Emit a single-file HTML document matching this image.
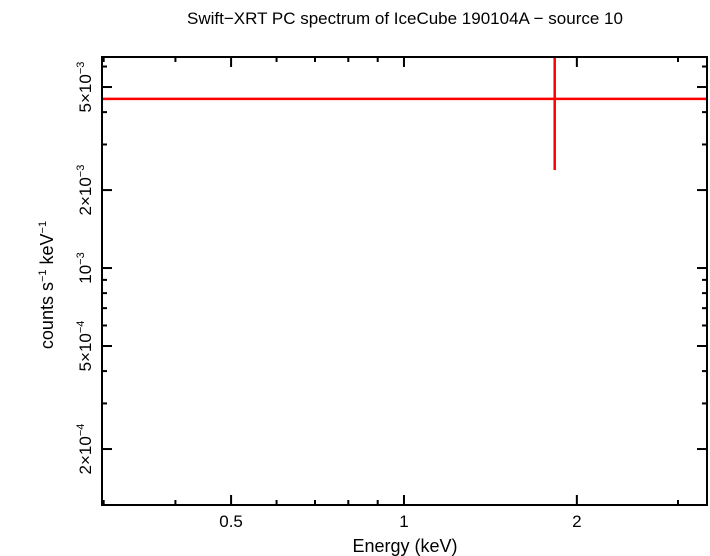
<!DOCTYPE html>
<html><head><meta charset="utf-8"><style>
body{margin:0;background:#fff;}
svg{display:block;font-family:"Liberation Sans",sans-serif;}
</style></head><body>
<svg id="c" width="710" height="556">
<text x="405" y="24" font-size="17" text-anchor="middle">Swift−XRT PC spectrum of IceCube 190104A − source 10</text>
<text x="405" y="552" font-size="18" text-anchor="middle">Energy (keV)</text>
<text transform="translate(53,285) rotate(-90)" font-size="18" text-anchor="middle">counts s<tspan font-size="11" dy="-7">−1</tspan><tspan dy="7"> keV</tspan><tspan font-size="11" dy="-7">−1</tspan></text>
<g id="ticks"></g>
<g id="data"></g>
<rect x="102" y="57" width="605" height="448" fill="none" stroke="#000" stroke-width="2"/>
</svg>
<script>
const xTicksMajor=[0.5,1,2];
const xTickLabels=["0.5","1","2"];
const xTicksMinor=[0.3,0.4,0.6,0.7,0.8,0.9,3];
const yTicksMajor=[2e-4,5e-4,1e-3,2e-3,5e-3];
const yTickLabels=[["2×10","−4"],["5×10","−4"],["10","−3"],["2×10","−3"],["5×10","−3"]];
const yTicksMinor=[3e-4,4e-4,6e-4,7e-4,8e-4,9e-4,3e-3,4e-3,6e-3];
const energy=[1.83];
const energyLo=[0.2];
const energyHi=[4];
const rate=[4.5e-3];
const rateLo=[2.39e-3];
const rateHi=[9e-3];
const L=102,R=707,T=57,B=505;
const xmin=Math.log10(0.298),xmax=Math.log10(3.37),ymin=Math.log10(1.216e-4),ymax=Math.log10(6.53e-3);
const X=v=>L+(Math.log10(v)-xmin)/(xmax-xmin)*(R-L);
const Y=v=>B-(Math.log10(v)-ymin)/(ymax-ymin)*(B-T);
const NS="http://www.w3.org/2000/svg";
const tg=document.getElementById('ticks'),dg=document.getElementById('data');
function ln(g,x1,y1,x2,y2,c,w){const e=document.createElementNS(NS,'line');e.setAttribute('x1',x1);e.setAttribute('y1',y1);e.setAttribute('x2',x2);e.setAttribute('y2',y2);e.setAttribute('stroke',c);e.setAttribute('stroke-width',w);g.appendChild(e);return e;}
xTicksMajor.forEach((v,i)=>{const x=X(v);
 let a=ln(tg,x,B,x,B-10,'#000',2);


 let b=ln(tg,x,T,x,T+10,'#000',2);


 const t=document.createElementNS(NS,'text');t.setAttribute('x',x);t.setAttribute('y',527);t.setAttribute('font-size','17');t.setAttribute('text-anchor','middle');t.textContent=xTickLabels[i];


 tg.appendChild(t);});
xTicksMinor.forEach(v=>{const x=X(v);
 let a=ln(tg,x,B,x,B-5,'#000',2);


 let b=ln(tg,x,T,x,T+5,'#000',2);


});
yTicksMajor.forEach((v,i)=>{const y=Y(v);
 let a=ln(tg,L,y,L+10,y,'#000',2);


 let b=ln(tg,R,y,R-10,y,'#000',2);


 const t=document.createElementNS(NS,'text');t.setAttribute('transform','translate(91,'+y+') rotate(-90)');t.setAttribute('font-size','17');t.setAttribute('text-anchor','middle');
 t.innerHTML=yTickLabels[i][0]+'<tspan font-size="11" dy="-7">'+yTickLabels[i][1]+'</tspan>';


 tg.appendChild(t);});
yTicksMinor.forEach(v=>{const y=Y(v);
 let a=ln(tg,L,y,L+5,y,'#000',2);


 let b=ln(tg,R,y,R-5,y,'#000',2);


});
const clipX=x=>Math.max(L,Math.min(R,x)),clipY=y=>Math.max(T,Math.min(B,y));
energy.forEach((e,i)=>{
 let h=ln(dg,clipX(X(energyLo[i])),Y(rate[i]),clipX(X(energyHi[i])),Y(rate[i]),'#f00',2.5);


 let v=ln(dg,X(e),clipY(Y(rateLo[i])),X(e),clipY(Y(rateHi[i])),'#f00',2.5);


});
</script>
</body></html>
